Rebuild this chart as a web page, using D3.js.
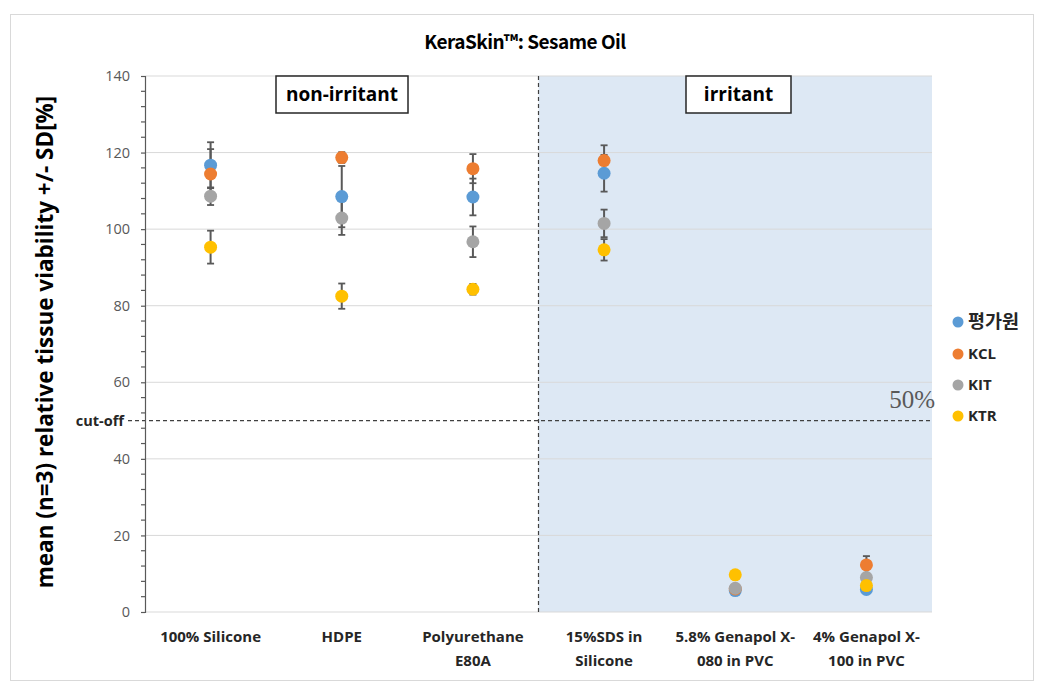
<!DOCTYPE html>
<html>
<head>
<meta charset="utf-8">
<script src="https://cdn.jsdelivr.net/npm/d3@7"></script>
<style>
  html, body { margin: 0; padding: 0; background: #fff; }
  svg { display: block; }
</style>
</head>
<body>
<svg id="chart" width="1052" height="695"></svg>
<script>
// ---- data ----
const categories = [
  ["100% Silicone"],
  ["HDPE"],
  ["Polyurethane", "E80A"],
  ["15%SDS in", "Silicone"],
  ["5.8% Genapol X-", "080 in PVC"],
  ["4% Genapol X-", "100 in PVC"]
];
const seriesNames = ["평가원", "KCL", "KIT", "KTR"];
const seriesColors = ["#5b9bd5", "#ed7d31", "#a5a5a5", "#ffc000"];
const meanBlue   = [116.7, 108.5, 108.4, 114.6, 5.6, 5.9];
const sdBlue     = [6.0, 8.0, 4.8, 4.8, 0.5, 0.6];
const meanOrange = [114.4, 118.7, 115.8, 117.9, 6.0, 12.3];
const sdOrange   = [6.5, 1.4, 3.8, 4.0, 0.5, 2.3];
const meanGray   = [108.6, 102.9, 96.7, 101.5, 6.2, 9.0];
const sdGray     = [2.3, 4.4, 4.0, 3.6, 0.6, 0.8];
const meanYellow = [95.3, 82.5, 84.3, 94.6, 9.7, 6.9];
const sdYellow   = [4.3, 3.3, 1.4, 2.8, 0.4, 0.6];
const yTicks = [0, 20, 40, 60, 80, 100, 120, 140];
const cutoff = 50;

const means = [meanBlue, meanOrange, meanGray, meanYellow];
const sds = [sdBlue, sdOrange, sdGray, sdYellow];

// ---- layout ----
const svg = d3.select("#chart");
const plot = { left: 145, right: 932, top: 76, bottom: 612 };
const FONT = "'Open Sans', sans-serif";

// outer border
svg.append("rect").attr("x", 10.5).attr("y", 14.5).attr("width", 1023).attr("height", 666)
  .attr("fill", "#fff").attr("stroke", "#d9d9d9").attr("stroke-width", 1);

const x = d3.scaleBand().domain(d3.range(categories.length))
  .range([plot.left, plot.right]).paddingInner(0).paddingOuter(0);
const y = d3.scaleLinear().domain([0, 140]).range([plot.bottom, plot.top]);

// irritant shading
svg.append("rect")
  .attr("x", x(3)).attr("y", y(140))
  .attr("width", plot.right - x(3)).attr("height", y(0) - y(140))
  .attr("fill", "#dde8f4");

// gridlines
svg.append("g").selectAll("line").data(yTicks.filter(d => d > 0)).join("line")
  .attr("x1", plot.left).attr("x2", plot.right)
  .attr("y1", d => y(d)).attr("y2", d => y(d))
  .attr("stroke", "#d9d9d9").attr("stroke-width", 1);

// x baseline
svg.append("line").attr("x1", plot.left).attr("x2", plot.right)
  .attr("y1", y(0)).attr("y2", y(0)).attr("stroke", "#d9d9d9").attr("stroke-width", 1);

// vertical divider
svg.append("line").attr("x1", x(3)).attr("x2", x(3))
  .attr("y1", y(140)).attr("y2", y(0))
  .attr("stroke", "#404040").attr("stroke-width", 1.2).attr("stroke-dasharray", "4,3");

// cutoff line
svg.append("line").attr("x1", 128).attr("x2", plot.right)
  .attr("y1", y(cutoff)).attr("y2", y(cutoff))
  .attr("stroke", "#404040").attr("stroke-width", 1.2).attr("stroke-dasharray", "4,3");

svg.append("text").attr("x", 124).attr("y", y(cutoff) + 5)
  .attr("text-anchor", "end").attr("font-family", FONT)
  .attr("font-weight", "bold").attr("font-size", 14.5).attr("fill", "#262626")
  .text("cut-off");

svg.append("text").attr("x", 935).attr("y", y(cutoff) - 13)
  .attr("text-anchor", "end").attr("font-family", "'Liberation Serif', serif")
  .attr("font-size", 25).attr("fill", "#595959")
  .text(cutoff + "%");

// y axis
const yAxis = d3.axisLeft(y).tickValues(yTicks).tickSize(4).tickPadding(11);
const gy = svg.append("g").attr("transform", `translate(${plot.left},0)`).call(yAxis);
gy.select(".domain").attr("stroke", "#595959").attr("stroke-width", 1.2);
gy.selectAll(".tick line").attr("stroke", "#595959").attr("stroke-width", 1.2);
gy.selectAll(".tick text").attr("font-family", FONT)
  .attr("font-size", 14.5).attr("fill", "#595959");
// minor ticks
const minor = d3.range(0, 141, 4).filter(v => v % 20 !== 0);
svg.append("g").selectAll("line").data(minor).join("line")
  .attr("x1", plot.left - 4).attr("x2", plot.left)
  .attr("y1", d => y(d)).attr("y2", d => y(d))
  .attr("stroke", "#595959").attr("stroke-width", 1.2);

// y title
svg.append("text")
  .attr("transform", `translate(53,${(plot.top + plot.bottom) / 2 - 2}) rotate(-90)`)
  .attr("text-anchor", "middle").attr("font-family", FONT)
  .attr("font-weight", "bold").attr("font-size", 22.5).attr("fill", "#000")
  .text("mean (n=3) relative tissue viability +/- SD[%]");

// x labels
const xl = svg.append("g");
categories.forEach((lines, i) => {
  const t = xl.append("text").attr("x", x(i) + x.bandwidth() / 2).attr("y", 642)
    .attr("text-anchor", "middle").attr("font-family", FONT)
    .attr("font-weight", "bold").attr("font-size", 15).attr("fill", "#262626");
  lines.forEach((l, j) => {
    t.append("tspan").attr("x", x(i) + x.bandwidth() / 2).attr("dy", j === 0 ? 0 : 24).text(l);
  });
});

// title
svg.append("text").attr("x", 525).attr("y", 49)
  .attr("text-anchor", "middle").attr("font-family", "'Noto Sans CJK KR', 'Open Sans', sans-serif")
  .attr("font-weight", "bold").attr("font-size", 19).attr("fill", "#000")
  .attr("letter-spacing", -0.5)
  .text("KeraSkin™: Sesame Oil");

// region label boxes
function labelBox(cx, text, w) {
  svg.append("rect").attr("x", cx - w / 2).attr("y", 76).attr("width", w).attr("height", 37)
    .attr("fill", "#fff").attr("stroke", "#262626").attr("stroke-width", 1.5);
  svg.append("text").attr("x", cx).attr("y", 101)
    .attr("text-anchor", "middle").attr("font-family", FONT)
    .attr("font-weight", "bold").attr("font-size", 19).attr("fill", "#000").text(text);
}
labelBox(342, "non-irritant", 132);
labelBox(738.5, "irritant", 105);

// error bars and points
const cx = i => x(i) + x.bandwidth() / 2;
means.forEach((m, s) => {
  const g = svg.append("g");
  m.forEach((v, i) => {
    const sd = sds[s][i];
    g.append("line").attr("x1", cx(i)).attr("x2", cx(i))
      .attr("y1", y(v - sd)).attr("y2", y(v + sd))
      .attr("stroke", "#595959").attr("stroke-width", 2);
    [v - sd, v + sd].forEach(e => {
      g.append("line").attr("x1", cx(i) - 3.5).attr("x2", cx(i) + 3.5)
        .attr("y1", y(e)).attr("y2", y(e))
        .attr("stroke", "#595959").attr("stroke-width", 1.8);
    });
  });
});
means.forEach((m, s) => {
  svg.append("g").selectAll("circle").data(m).join("circle")
    .attr("cx", (d, i) => cx(i)).attr("cy", d => y(d)).attr("r", 6.5)
    .attr("fill", seriesColors[s]);
});

// legend
const legY = [322, 354, 385, 416];
seriesNames.forEach((n, s) => {
  svg.append("circle").attr("cx", 958).attr("cy", legY[s]).attr("r", 5.5).attr("fill", seriesColors[s]);
  svg.append("text").attr("x", 968).attr("y", legY[s] + (s === 0 ? 6 : 5))
    .attr("font-family", s === 0 ? "'Noto Sans CJK KR', sans-serif" : FONT)
    .attr("font-weight", "bold").attr("font-size", s === 0 ? 18.5 : 15).attr("fill", "#262626")
    .text(n);
});
</script>
</body>
</html>
